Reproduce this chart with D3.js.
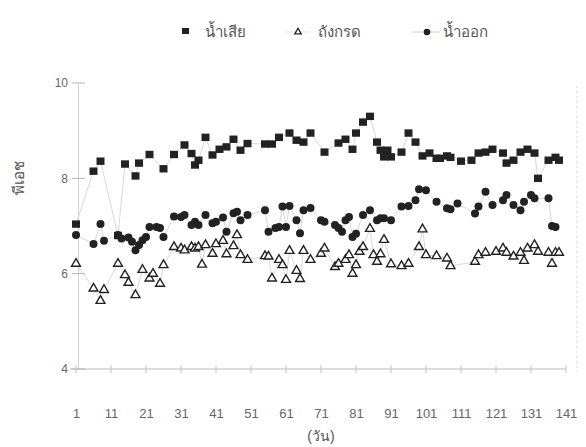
<!DOCTYPE html>
<html><head><meta charset="utf-8">
<script src="https://cdn.jsdelivr.net/npm/d3@7"></script>
<style>
body{margin:0;background:#fff;}
text{font-family:"Liberation Sans Narrow","Liberation Sans","Noto Sans","DejaVu Sans",sans-serif;}
</style></head>
<body><svg id="c" width="586" height="447"></svg>
<script>
const xTicks=[1,11,21,31,41,51,61,71,81,91,101,111,121,131,141];
const yTicks=[4,6,8,10];
const seriesNames=["น้ำเสีย","ถังกรด","น้ำออก"];

const wasteDays=[1,6,8,13,15,18,19,22,26,29,32,34,35,36,38,40,42,44,46,48,50,55,57,59,62,64,66,68,72,76,78,80,81,83,85,87,88,89,90,91,94,96,98,100,102,104,105,107,108,111,114,116,118,120,123,124,126,128,130,132,133,136,138,139];
const wasteVals=[7.04,8.15,8.36,6.8,8.30,8.05,8.32,8.50,8.20,8.50,8.70,8.52,8.28,8.38,8.86,8.49,8.61,8.66,8.82,8.59,8.73,8.72,8.72,8.86,8.95,8.80,8.76,8.95,8.55,8.74,8.82,8.61,8.95,9.18,9.30,8.76,8.59,8.45,8.59,8.45,8.55,8.95,8.76,8.47,8.53,8.42,8.42,8.47,8.44,8.36,8.38,8.53,8.55,8.61,8.53,8.32,8.38,8.55,8.61,8.53,8.00,8.38,8.44,8.38];

const acidDays=[1,6,8,9,13,15,16,18,20,22,23,25,26,29,31,32,34,35,36,37,38,40,41,43,44,46,47,48,50,55,56,57,59,60,61,62,64,65,66,68,71,72,75,76,78,79,80,81,82,83,85,86,87,88,89,91,94,96,99,100,101,104,107,108,115,116,118,121,123,124,126,128,129,130,132,133,136,137,138,139];
const acidVals=[6.21,5.69,5.43,5.66,6.21,5.97,5.81,5.55,6.08,5.90,6.00,5.79,6.18,6.56,6.53,6.49,6.56,6.53,6.56,6.19,6.60,6.42,6.62,6.69,6.41,6.58,6.81,6.39,6.29,6.37,6.36,5.90,6.29,6.18,5.87,6.48,6.06,5.89,6.48,6.29,6.42,6.53,6.14,6.21,6.29,6.39,6.00,6.18,6.46,6.56,6.94,6.39,6.25,6.41,6.71,6.20,6.16,6.21,6.56,6.93,6.39,6.37,6.32,6.16,6.25,6.39,6.44,6.46,6.53,6.44,6.36,6.44,6.27,6.53,6.60,6.46,6.44,6.21,6.44,6.44];

const outDays=[1,6,8,9,13,14,16,17,18,19,20,21,22,24,25,26,29,31,32,34,35,36,38,40,41,43,44,46,47,48,50,55,56,58,59,60,61,62,64,65,66,68,71,72,75,76,77,78,79,80,81,83,85,87,88,89,91,94,96,98,99,101,104,107,108,110,115,116,118,120,123,124,126,128,129,131,132,136,137,138];
const outVals=[6.81,6.62,7.04,6.69,6.81,6.74,6.76,6.67,6.49,6.60,6.70,6.77,6.98,6.98,6.96,6.77,7.20,7.19,7.23,7.02,7.09,7.02,7.23,7.06,7.09,7.18,6.88,7.27,7.30,7.12,7.23,7.33,6.88,6.96,6.98,7.41,6.98,7.42,7.12,6.85,7.33,7.38,7.12,7.09,7.02,6.96,6.88,7.12,7.19,6.77,6.84,7.23,7.33,7.12,7.16,7.16,7.12,7.41,7.42,7.54,7.77,7.75,7.51,7.37,7.35,7.47,7.26,7.41,7.72,7.44,7.54,7.65,7.44,7.33,7.51,7.65,7.58,7.58,7.00,6.98];

const svg=d3.select("#c");
const x=d3.scaleLinear().domain([1,141]).range([76,566]);
const y=d3.scaleLinear().domain([4,10]).range([369,83]);
const ink="#222", grey="#d2d2d2", txt="#666";

// right faint border
svg.append("line").attr("x1",577).attr("x2",577).attr("y1",86).attr("y2",372)
  .attr("stroke","#d4d4d4").attr("stroke-dasharray","2,3").attr("stroke-width",1);

// y axis
const ya=svg.append("g").attr("transform","translate(78,0)")
  .call(d3.axisLeft(y).tickValues(yTicks).tickSize(0).tickPadding(10).tickFormat(d3.format("d")));
ya.select(".domain").attr("stroke","#d0d0d0");
ya.selectAll("text").attr("font-size",12).attr("fill",txt);
yTicks.forEach(t=>svg.append("line").attr("x1",72).attr("x2",85).attr("y1",y(t)).attr("y2",y(t)).attr("stroke","#b5b5b5"));

// x axis
const xa=svg.append("g").attr("transform","translate(0,369)")
  .call(d3.axisBottom(x).tickValues(xTicks).tickSize(0).tickPadding(40));
xa.select(".domain").attr("stroke","#b8b8b8").attr("d","M70,0H566");
xa.selectAll("text").attr("font-size",13).attr("fill",txt);
xTicks.forEach(t=>svg.append("line").attr("x1",x(t)).attr("x2",x(t)).attr("y1",365).attr("y2",373).attr("stroke","#c4c4c4"));

// titles
svg.append("text").attr("transform","translate(24,178) rotate(-90)").attr("text-anchor","middle")
  .attr("font-size",15).attr("fill","#555").text("พีเอช");
svg.append("text").attr("x",321).attr("y",441).attr("text-anchor","middle")
  .attr("font-size",14).attr("fill","#555").text("(วัน)");

const line=d3.line().x(d=>x(d[0])).y(d=>y(d[1]));
const waste=wasteDays.map((d,i)=>[d,wasteVals[i]]);
const acid=acidDays.map((d,i)=>[d,acidVals[i]]);
const out=outDays.map((d,i)=>[d,outVals[i]]);
[waste,acid,out].forEach(s=>svg.append("path").attr("d",line(s)).attr("fill","none").attr("stroke",grey).attr("stroke-width",0.9));

const tri=d3.symbol().type(d3.symbolTriangle).size(34);
svg.append("g").selectAll("path").data(acid).join("path")
  .attr("d",tri).attr("transform",d=>`translate(${x(d[0])},${y(d[1])})`)
  .attr("fill","#fff").attr("stroke",ink).attr("stroke-width",1.4);
svg.append("g").selectAll("circle").data(out).join("circle")
  .attr("cx",d=>x(d[0])).attr("cy",d=>y(d[1])).attr("r",4).attr("fill",ink);
svg.append("g").selectAll("rect").data(waste).join("rect")
  .attr("x",d=>x(d[0])-4).attr("y",d=>y(d[1])-3.7).attr("width",8).attr("height",7.4).attr("fill",ink);

// legend
const lg=svg.append("g");
lg.append("rect").attr("x",182).attr("y",28).attr("width",7).attr("height",6).attr("fill",ink);
lg.append("text").attr("x",205).attr("y",37).attr("font-size",15).attr("fill","#555").text(seriesNames[0]);
lg.append("line").attr("x1",286).attr("x2",310).attr("y1",32).attr("y2",32).attr("stroke","#e2e2e2");
lg.append("path").attr("d",d3.symbol().type(d3.symbolTriangle).size(18)).attr("transform","translate(298,32)")
  .attr("fill","#fff").attr("stroke",ink).attr("stroke-width",1.3);
lg.append("text").attr("x",318).attr("y",37).attr("font-size",15).attr("fill","#555").text(seriesNames[1]);
lg.append("line").attr("x1",412).attr("x2",440).attr("y1",32).attr("y2",32).attr("stroke","#d0d0d0");
lg.append("circle").attr("cx",427).attr("cy",32).attr("r",3.3).attr("fill",ink);
lg.append("text").attr("x",443).attr("y",37).attr("font-size",15).attr("fill","#555").text(seriesNames[2]);
</script></body></html>
